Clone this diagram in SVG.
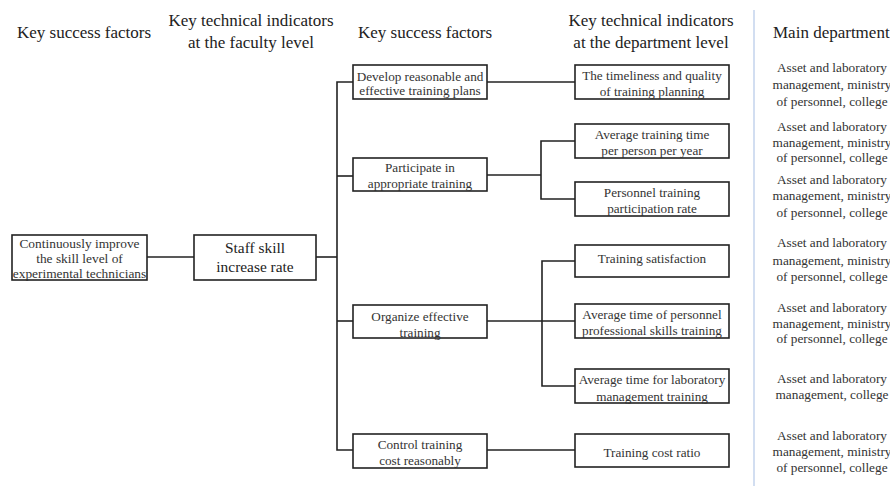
<svg xmlns="http://www.w3.org/2000/svg" width="890" height="486" viewBox="0 0 890 486">
<style>
.bg{fill:#ffffff}
.box{fill:#ffffff;stroke:#222222;stroke-width:1.6}
.ln{fill:none;stroke:#222222;stroke-width:1.6}
text{font-family:"Liberation Serif","Times New Roman",serif}
.hd{font-size:17px;fill:#222222;text-anchor:middle}
.t{font-size:13.2px;fill:#333333;text-anchor:middle}
.tb{font-size:15.4px;fill:#222222;text-anchor:middle}
.dep{font-size:13.3px;fill:#333333;text-anchor:middle}
</style>
<rect class="bg" x="0" y="0" width="890" height="486"/>
<g id="headers">
<text class="hd" x="84" y="38">Key success factors</text>
<text class="hd" x="251" y="26">Key technical indicators</text>
<text class="hd" x="251" y="48">at the faculty level</text>
<text class="hd" x="425" y="38">Key success factors</text>
<text class="hd" x="651" y="26">Key technical indicators</text>
<text class="hd" x="651" y="48">at the department level</text>
<text class="hd" x="773" y="38" style="text-anchor:start">Main department</text>
</g>
<line x1="754" y1="10" x2="754" y2="486" stroke="#c3d3ec" stroke-width="1.5"/>
<g id="connectors">
<line class="ln" x1="147" y1="257" x2="194" y2="257"/>
<line class="ln" x1="316" y1="257" x2="337" y2="257"/>
<polyline class="ln" points="353,82 337,82 337,450 353,450"/>
<line class="ln" x1="337" y1="176" x2="353" y2="176"/>
<line class="ln" x1="337" y1="321" x2="353" y2="321"/>
<line class="ln" x1="487" y1="82" x2="575" y2="82"/>
<line class="ln" x1="487" y1="175" x2="541" y2="175"/>
<polyline class="ln" points="575,141 541,141 541,199 575,199"/>
<line class="ln" x1="487" y1="321" x2="575" y2="321"/>
<polyline class="ln" points="575,261 542,261 542,386 575,386"/>
<line class="ln" x1="487" y1="450" x2="575" y2="450"/>
</g>
<g id="n-goal">
<rect class="box" x="12" y="235" width="135" height="45"/>
<text class="t" x="79.5" y="247.5" style="font-size:13.4px">Continuously improve</text>
<text class="t" x="79.5" y="262.5" style="font-size:13.4px">the skill level of</text>
<text class="t" x="79.5" y="277.5" style="font-size:13.4px">experimental technicians</text>
</g>
<g id="n-staff">
<rect class="box" x="194" y="235" width="122" height="45"/>
<text class="tb" x="255" y="253">Staff skill</text>
<text class="tb" x="255" y="272">increase rate</text>
</g>
<g id="n-develop">
<rect class="box" x="353" y="65" width="134" height="34"/>
<text class="t" x="420" y="80.5">Develop reasonable and</text>
<text class="t" x="420" y="95">effective training plans</text>
</g>
<g id="n-participate">
<rect class="box" x="353" y="158" width="134" height="33"/>
<text class="t" x="420" y="171.5">Participate in</text>
<text class="t" x="420" y="187.5">appropriate training</text>
</g>
<g id="n-organize">
<rect class="box" x="353" y="305" width="134" height="33"/>
<text class="t" x="420" y="320.5">Organize effective</text>
<text class="t" x="420" y="336.5">training</text>
</g>
<g id="n-control">
<rect class="box" x="353" y="434" width="134" height="34"/>
<text class="t" x="420" y="448.5">Control training</text>
<text class="t" x="420" y="464.5">cost reasonably</text>
</g>
<g id="n-timeliness">
<rect class="box" x="575" y="65" width="154" height="34"/>
<text class="t" x="652" y="79.5">The timeliness and quality</text>
<text class="t" x="652" y="95.5">of training planning</text>
</g>
<g id="n-avgtime">
<rect class="box" x="575" y="124" width="154" height="34"/>
<text class="t" x="652" y="138.5">Average training time</text>
<text class="t" x="652" y="154.5">per person per year</text>
</g>
<g id="n-participation">
<rect class="box" x="575" y="182" width="154" height="34"/>
<text class="t" x="652" y="196.5">Personnel training</text>
<text class="t" x="652" y="212.5">participation rate</text>
</g>
<g id="n-satisfaction">
<rect class="box" x="575" y="245" width="154" height="32"/>
<text class="t" x="652" y="262.5">Training satisfaction</text>
</g>
<g id="n-professional">
<rect class="box" x="575" y="304" width="154" height="34"/>
<text class="t" x="652" y="318.5">Average time of personnel</text>
<text class="t" x="652" y="334.5">professional skills training</text>
</g>
<g id="n-labmgmt">
<rect class="box" x="575" y="369" width="154" height="34"/>
<text class="t" x="652" y="383.5">Average time for laboratory</text>
<text class="t" x="652" y="400.5">management training</text>
</g>
<g id="n-cost">
<rect class="box" x="575" y="434" width="154" height="33"/>
<text class="t" x="652" y="456.5">Training cost ratio</text>
</g>
<g id="departments">
<text class="dep" x="832" y="71.5">Asset and laboratory</text>
<text class="dep" x="832" y="88.5">management, ministry</text>
<text class="dep" x="832" y="105.5">of personnel, college</text>
<text class="dep" x="832" y="130.5">Asset and laboratory</text>
<text class="dep" x="832" y="146.5">management, ministry</text>
<text class="dep" x="832" y="161.5">of personnel, college</text>
<text class="dep" x="832" y="183.5">Asset and laboratory</text>
<text class="dep" x="832" y="199.5">management, ministry</text>
<text class="dep" x="832" y="216.5">of personnel, college</text>
<text class="dep" x="832" y="246.5">Asset and laboratory</text>
<text class="dep" x="832" y="264.5">management, ministry</text>
<text class="dep" x="832" y="280.5">of personnel, college</text>
<text class="dep" x="832" y="311.5">Asset and laboratory</text>
<text class="dep" x="832" y="327.5">management, ministry</text>
<text class="dep" x="832" y="342.5">of personnel, college</text>
<text class="dep" x="832" y="382.5">Asset and laboratory</text>
<text class="dep" x="832" y="398.5">management, college</text>
<text class="dep" x="832" y="439.5">Asset and laboratory</text>
<text class="dep" x="832" y="455.5">management, ministry</text>
<text class="dep" x="832" y="471.5">of personnel, college</text>
</g>
</svg>
